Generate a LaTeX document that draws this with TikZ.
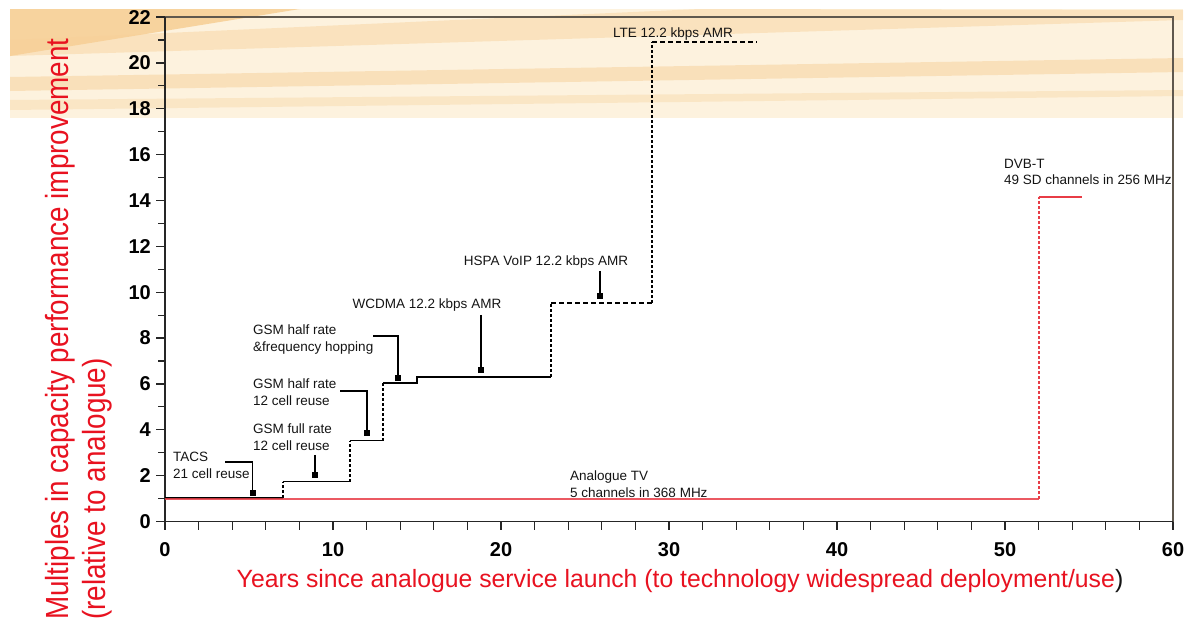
\documentclass[tikz,border=0pt]{standalone}
\usepackage{fontspec}
\setmainfont{Liberation Sans}
\newfontfamily\axfont[FakeStretch=0.87]{Liberation Sans}
\newfontfamily\xfont[FakeStretch=0.99]{Liberation Sans}
\definecolor{axred}{RGB}{232,18,32}
\definecolor{linered}{RGB}{232,60,70}
\definecolor{peach}{RGB}{253,242,222}
\definecolor{streak}{RGB}{247,208,152}
\definecolor{framec}{RGB}{95,88,78}
\definecolor{txt}{RGB}{20,20,20}
\begin{document}
\begin{tikzpicture}[x=1pt,y=-1pt,
  lbl/.style={font=\fontsize{13.5}{16.5}\selectfont, text=txt, inner sep=0pt, align=left},
  marker/.style={fill=black, draw=none, minimum size=6pt, inner sep=0pt, rectangle},
  leader/.style={draw=black, line width=1.1pt},
  tlab/.style={font=\fontsize{20}{20}\selectfont\bfseries, inner sep=0pt, text=black},
  axisline/.style={draw=black!85, line width=1.4pt},
  frameline/.style={draw=framec, line width=1.4pt},
  stepline/.style={line width=1.4pt, black},
  vdash/.style={line width=2pt, black, dash pattern=on 3pt off 2pt},
  hdash/.style={line width=1.8pt, black, dash pattern=on 5pt off 3pt},
  redline/.style={line width=1.5pt, linered},
  reddash/.style={line width=2.2pt, linered, dash pattern=on 3pt off 2pt},
]
\useasboundingbox (0,0) rectangle (1195,621);
% background band
\fill[peach] (10,9) rectangle (1183,118);
\fill[streak, opacity=0.9] (10,9) -- (300,9) -- (10,56) -- cycle;
\fill[streak, opacity=0.45] (10,40) -- (10,56) -- (1183,20) -- (1183,10) -- (700,9) -- cycle;
\fill[streak, opacity=0.5] (10,77) -- (10,91) -- (1183,72) -- (1183,58) -- cycle;
\fill[streak, opacity=0.35] (10,100) -- (10,110) -- (1183,96) -- (1183,90) -- cycle;

\begin{scope}[shift={(165pt,-521.5pt)}, x=16.8pt, y=22.93pt]
  % frame and axes
  \draw[frameline] (0,22) -- (60,22) -- (60,0);
  \draw[axisline] (0,22) -- (0,0) -- (60,0);
  \foreach \v in {0,2,...,22} {
    \draw[axisline, line width=1.2pt] (0,\v) -- ++(-9pt,0pt);
    \node[tlab, anchor=east] (yl\v) at ([xshift=-14pt]0,\v) {\v};
  }
  \foreach \v in {1,3,...,21} \draw[axisline, line width=1.2pt] (0,\v) -- ++(-7pt,0pt);
  \foreach \v in {0,2,...,60} \draw[axisline, line width=1.2pt] (\v,0) -- ++(0pt,-8pt);
  \foreach \v in {0,10,...,60} \node[tlab] (xl\v) at ([yshift=-28.5pt]\v,0) {\v};

  % mobile technology steps
  \draw[stepline] (0,1.02) -- (7,1.02);
  \draw[vdash] (7,1.02) -- (7,1.74);
  \draw[stepline] (7,1.74) -- (11,1.74);
  \draw[vdash] (11,1.74) -- (11,3.52);
  \draw[stepline] (11,3.52) -- (13,3.52);
  \draw[vdash] (13,3.52) -- (13,6.04);
  \draw[stepline] (13,6.04) -- (15,6.04) -- (15,6.31) -- (23,6.31);
  \draw[vdash] (23,6.31) -- (23,9.53);
  \draw[hdash] (23,9.53) -- (29,9.53);
  \draw[vdash] (29,9.53) -- (29,20.92);
  \draw[hdash] (29,20.92) -- (35.2,20.92);

  % broadcast TV
  \draw[redline, opacity=0.85] (0,0.98) -- (52,0.98);
  \draw[reddash] (52,0.98) -- (52,14.15);
  \draw[redline] (52,14.15) -- (54.6,14.15);
\end{scope}

% axis titles
\node[font=\axfont\fontsize{32}{32}\selectfont, text=axred, rotate=90, anchor=base east, inner sep=0pt] (ytitle1) at (68,38) {Multiples in capacity performance improvement};
\node[font=\axfont\fontsize{32}{32}\selectfont, text=axred, rotate=90, anchor=base east, inner sep=0pt] (ytitle2) at (105,358) {(relative to analogue)};
\node[font=\xfont\fontsize{25}{25}\selectfont, text=axred, anchor=base, inner sep=0pt] (xtitle) at (680,587) {Years since analogue service launch (to technology widespread deployment/use\textcolor{txt}{)}};

% labels
\node[lbl, anchor=north west] (lTACS) at (173,452) {TACS\\21 cell reuse};
\node[lbl, anchor=north west] (lGSMf) at (253,424) {GSM full rate\\12 cell reuse};
\node[lbl, anchor=north west] (lGSMh) at (253,379) {GSM half rate\\12 cell reuse};
\node[lbl, anchor=north west] (lGSMfh) at (253,325) {GSM half rate\\\&frequency hopping};
\node[lbl, anchor=north] (lWCDMA) at (427,299) {WCDMA 12.2 kbps AMR};
\node[lbl, anchor=north] (lHSPA) at (546,256) {HSPA VoIP 12.2 kbps AMR};
\node[lbl, anchor=north] (lLTE) at (673,28) {LTE 12.2 kbps AMR};
\node[lbl, anchor=north west] (lDVB) at (1004,159) {DVB-T\\49 SD channels in 256 MHz};
\node[lbl, anchor=north west] (lATV) at (570,471) {Analogue TV\\5 channels in 368 MHz};

% markers and leaders
\node[marker] (mTACS) at (252.5,493) {};
\node[marker] (mGSMf) at (315,475) {};
\node[marker] (mGSMh) at (367,433) {};
\node[marker] (mGSMfh) at (398,378) {};
\node[marker] (mWCDMA) at (481,370) {};
\node[marker] (mHSPA) at (600,296) {};
\coordinate (cTACS) at (225,462);
\coordinate (cGSMh) at (340,391);
\coordinate (cGSMfh) at (373,336);
\draw[leader] (cTACS) -| (mTACS.center);
\draw[leader] (mGSMf.center |- lGSMf.south) ++(0,4) -- (mGSMf.center);
\draw[leader] (cGSMh) -| (mGSMh.center);
\draw[leader] (cGSMfh) -| (mGSMfh.center);
\draw[leader] (mWCDMA.center |- lWCDMA.south) ++(0,3) -- (mWCDMA.center);
\draw[leader] (mHSPA.center |- lHSPA.south) ++(0,2) -- (mHSPA.center);
\end{tikzpicture}
\end{document}
